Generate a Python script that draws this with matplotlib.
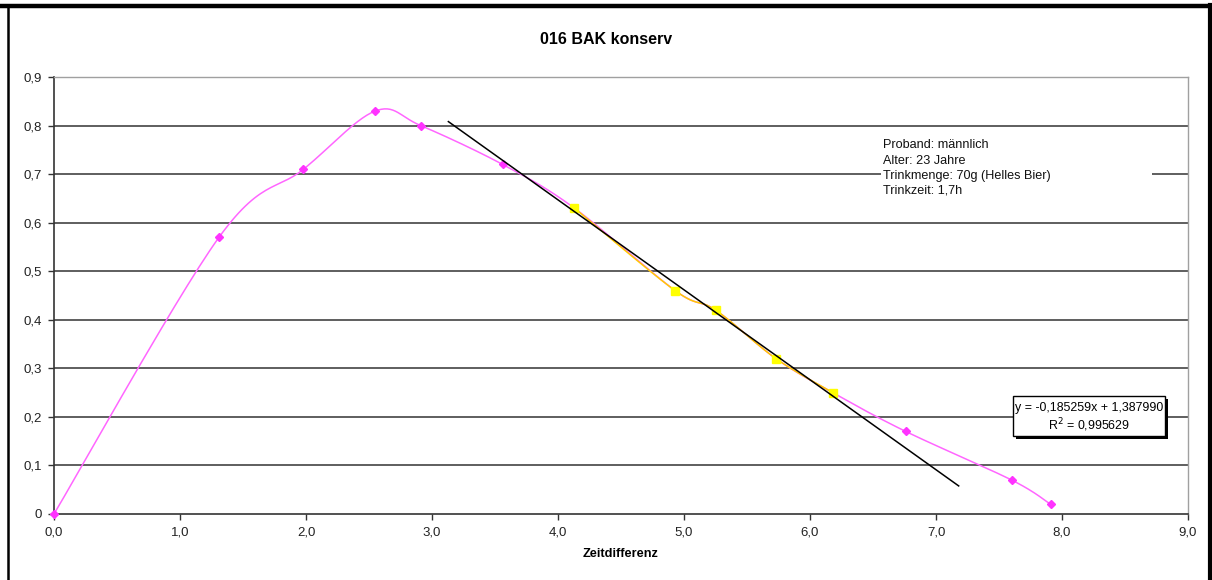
import numpy as np
import matplotlib
matplotlib.use("Agg")
import matplotlib.pyplot as plt
from matplotlib.patches import Rectangle
from matplotlib.lines import Line2D

plt.rcParams['font.family'] = ['Liberation Sans', 'DejaVu Sans']

# ---- data ----
title = "016 BAK konserv"
x_label = "Zeitdifferenz"
all_x = [0.0, 1.31, 1.98, 2.55, 2.91, 3.56, 4.13, 4.93, 5.25, 5.73, 6.18, 6.76, 7.60, 7.91]
all_y = [0.0, 0.57, 0.71, 0.83, 0.80, 0.72, 0.63, 0.46, 0.42, 0.32, 0.25, 0.17, 0.07, 0.02]
elim_x = [4.13, 4.93, 5.25, 5.73, 6.18]
elim_y = [0.63, 0.46, 0.42, 0.32, 0.25]
slope = -0.185259
intercept = 1.387990
r2 = 0.995629
trend_x = [3.13, 7.18]
x_ticks = [0, 1, 2, 3, 4, 5, 6, 7, 8, 9]
x_tick_labels = ["0,0", "1,0", "2,0", "3,0", "4,0", "5,0", "6,0", "7,0", "8,0", "9,0"]
y_ticks = [0, 0.1, 0.2, 0.3, 0.4, 0.5, 0.6, 0.7, 0.8, 0.9]
y_tick_labels = ["0", "0,1", "0,2", "0,3", "0,4", "0,5", "0,6", "0,7", "0,8", "0,9"]
info_lines = ["Proband: männlich", "Alter: 23 Jahre", "Trinkmenge: 70g (Helles Bier)", "Trinkzeit: 1,7h"]


def smooth(xs, ys, n=30):
    """Catmull-Rom style Bezier smoothing (like spreadsheet smoothed lines)."""
    P = np.column_stack([xs, ys]).astype(float)
    m = len(P)
    out = [P[0]]
    for i in range(m - 1):
        p0 = P[i - 1] if i > 0 else P[i]
        p1 = P[i]
        p2 = P[i + 1]
        p3 = P[i + 2] if i + 2 < m else P[i + 1]
        c1 = p1 + (p2 - p0) / 6.0
        c2 = p2 - (p3 - p1) / 6.0
        t = np.linspace(0, 1, n)[1:, None]
        seg = ((1 - t) ** 3) * p1 + 3 * ((1 - t) ** 2) * t * c1 + 3 * (1 - t) * t ** 2 * c2 + t ** 3 * p2
        out.extend(seg)
    out = np.array(out)
    return out[:, 0], out[:, 1]


W, H = 1212, 580
fig = plt.figure(figsize=(W / 100, H / 100), dpi=100)

# outer frame lines
fig.add_artist(Line2D([0, 1], [1 - 5.5 / H, 1 - 5.5 / H], color='black', lw=3.2, transform=fig.transFigure))
fig.add_artist(Line2D([7.5 / W, 7.5 / W], [0, 1 - 5 / H], color='black', lw=1.8, transform=fig.transFigure))
fig.add_artist(Line2D([1 - 2 / W, 1 - 2 / W], [0, 1 - 5 / H], color='black', lw=3.0, transform=fig.transFigure))

left, right, top, bottom = 54, 1188, 77, 514
ax = fig.add_axes([left / W, 1 - bottom / H, (right - left) / W, (bottom - top) / H])
ax.set_xlim(0, 9)
ax.set_ylim(0, 0.9)

for yv in y_ticks[1:]:
    ax.axhline(yv, color='#333333', lw=1.1, zorder=1)

for s in ['top', 'right']:
    ax.spines[s].set_color('#a0a0a0')
    ax.spines[s].set_linewidth(1.0)
for s in ['left', 'bottom']:
    ax.spines[s].set_color('#333333')
    ax.spines[s].set_linewidth(1.2)

ax.set_xticks(x_ticks)
ax.set_xticklabels(x_tick_labels)
ax.set_yticks(y_ticks)
ax.set_yticklabels(y_tick_labels)
ax.tick_params(axis='both', direction='out', length=4, width=1, color='#333333',
               labelsize=9.5, labelcolor='#222222', pad=5)

sx, sy = smooth(all_x, all_y)
ax.plot(sx, sy, color='#FF66FF', lw=1.1, zorder=3, clip_on=False)
ax.plot(all_x, all_y, linestyle='none', marker='D', ms=4.5, color='#FF33FF', zorder=4, clip_on=False)

ex, ey = smooth(elim_x, elim_y)
ax.plot(ex, ey, color='#FFCC00', lw=1.1, zorder=5)
ax.plot(elim_x, elim_y, linestyle='none', marker='s', ms=5.5, color='#FFFF00', zorder=6)

tx = np.array(trend_x)
ax.plot(tx, slope * tx + intercept, color='black', lw=1.1, zorder=7)

ax.set_xlabel(x_label, fontsize=9.2, fontweight='bold', labelpad=7)

fig.text(0.5, 1 - 40 / H, title, ha='center', va='center', fontsize=11.5, fontweight='bold')

# info text block with white background
fig.add_artist(Rectangle((881 / W, 1 - 200 / H), (1152 - 881) / W, 62 / H, transform=fig.transFigure,
                         facecolor='white', edgecolor='none', zorder=10))
for i, line in enumerate(info_lines):
    fig.text(883 / W, 1 - (145.5 + i * 15.0) / H, line, ha='left', va='center', fontsize=9.1,
             color='#111111', zorder=11)

# equation box with shadow
bx0, bx1, by0, by1 = 1013, 1165, 396, 436
fig.add_artist(Rectangle(((bx0 + 3) / W, 1 - (by1 + 3) / H), (bx1 - bx0) / W, (by1 - by0) / H,
                         transform=fig.transFigure, facecolor='black', edgecolor='black', lw=0, zorder=10))
fig.add_artist(Rectangle((bx0 / W, 1 - by1 / H), (bx1 - bx0) / W, (by1 - by0) / H,
                         transform=fig.transFigure, facecolor='white', edgecolor='black', lw=1.0, zorder=11))
eq = "y = " + f"{slope:.6f}".replace('.', ',') + "x + " + f"{intercept:.6f}".replace('.', ',')
fig.text((bx0 + bx1) / 2 / W, 1 - 408 / H, eq, ha='center', va='center', fontsize=8.9, zorder=12)
fig.text((bx0 + bx1) / 2 / W, 1 - 425 / H, "R$^2$ = " + f"{r2:.6f}".replace('.', ','),
         ha='center', va='center', fontsize=8.9, zorder=12)

fig.savefig("out.png", dpi=100)
